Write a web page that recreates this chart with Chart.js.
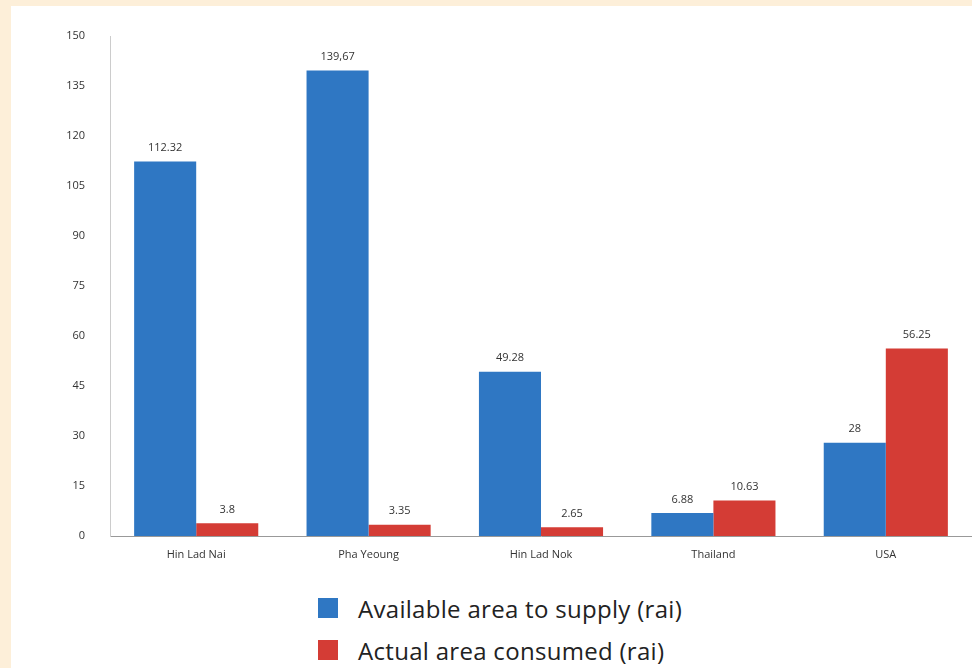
<!DOCTYPE html>
<html>
<head>
<meta charset="utf-8">
<script src="https://cdn.jsdelivr.net/npm/chart.js@4"></script>
<style>
  body { margin: 0; background: #fdefd9; width: 972px; height: 668px; overflow: hidden; font-family: "Open Sans", sans-serif; }
  #panel { position: absolute; left: 11px; top: 6px; width: 961px; height: 662px; background: #fff; }
  #wrap { position: absolute; left: -11px; top: -6px; width: 972px; height: 570px; }
  #legend { position: absolute; left: 307px; top: 581px; }
  .item { display: flex; align-items: center; height: 42px; font-size: 24px; letter-spacing: 0.3px; color: #222; }
  .box { width: 20px; height: 20px; margin-right: 20px; }
</style>
</head>
<body>
<div id="panel">
  <div id="wrap"><canvas id="c" width="972" height="570"></canvas></div>
  <div id="legend"></div>
</div>
<script>
// 資料
const categories = ['Hin Lad Nai', 'Pha Yeoung', 'Hin Lad Nok', 'Thailand', 'USA'];
const available = [112.32, 139.67, 49.28, 6.88, 28];
const consumed = [3.8, 3.35, 2.65, 10.63, 56.25];
// 標籤文字 (原圖寫法)
const availableText = ['112.32', '139,67', '49.28', '6.88', '28'];
const consumedText = ['3.8', '3.35', '2.65', '10.63', '56.25'];
const yTicks = [0, 15, 30, 45, 60, 75, 90, 105, 120, 135, 150];

const blue = '#2f77c3';
const red = '#d43c35';

// 柱頂數值
const valueLabels = {
  id: 'valueLabels',
  afterDatasetsDraw(chart) {
    const ctx = chart.ctx;
    ctx.save();
    ctx.font = '11px "Open Sans", sans-serif';
    ctx.fillStyle = '#333';
    ctx.textAlign = 'center';
    ctx.textBaseline = 'bottom';
    chart.data.datasets.forEach((ds, i) => {
      chart.getDatasetMeta(i).data.forEach((bar, j) => {
        ctx.fillText(ds.labelsText[j], bar.x, bar.y - 8);
      });
    });
    ctx.restore();
  }
};

const chart = new Chart(document.getElementById('c'), {
  type: 'bar',
  data: {
    labels: categories,
    datasets: [
      { label: 'Available area to supply (rai)', data: available, labelsText: availableText, backgroundColor: blue },
      { label: 'Actual area consumed (rai)', data: consumed, labelsText: consumedText, backgroundColor: red }
    ]
  },
  options: {
    responsive: false,
    animation: false,
    layout: { padding: { top: 36, right: 0, left: 0, bottom: 0 } },
    plugins: { legend: { display: false }, tooltip: { enabled: false } },
    datasets: { bar: { categoryPercentage: 0.72, barPercentage: 1 } },
    scales: {
      x: {
        grid: { display: false },
        border: { color: '#999' },
        ticks: { color: '#333', font: { size: 11, family: '"Open Sans", sans-serif' }, padding: 4 },
        afterFit: s => { s.height = 34; }
      },
      y: {
        min: 0, max: 150,
        afterBuildTicks: s => { s.ticks = yTicks.map(v => ({ value: v })); },
        grid: { display: false },
        border: { color: '#ccc' },
        ticks: { color: '#333', font: { size: 11, family: '"Open Sans", sans-serif' }, padding: 17 },
        afterFit: s => { s.width = 110; }
      }
    }
  },
  plugins: [valueLabels]
});

// 圖例
const legend = document.getElementById('legend');
chart.data.datasets.forEach(ds => {
  const row = document.createElement('div');
  row.className = 'item';
  row.innerHTML = `<span class="box" style="background:${ds.backgroundColor}"></span>${ds.label}`;
  legend.appendChild(row);
});
</script>
</body>
</html>
